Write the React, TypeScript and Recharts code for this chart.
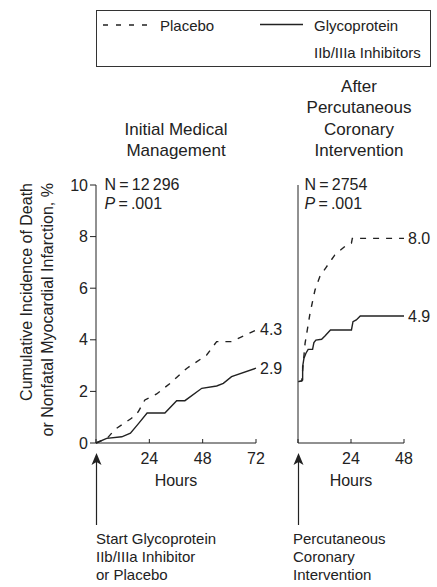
import React from "react";
import { LineChart, Line, XAxis, YAxis } from "recharts";

// Initial medical management (0-72 h)
const imGpHours = [0, 4.8, 11.6, 15.5, 19.2, 23, 31, 36.3, 40, 47.6, 54.3, 57.3, 61, 72];
const imGpValues = [0, 0.18, 0.24, 0.38, 0.76, 1.16, 1.16, 1.64, 1.64, 2.12, 2.21, 2.31, 2.57, 2.9];
const imPlaceboHours = [0, 5, 8.6, 16, 19, 22, 27.3, 33.3, 40.8, 49.8, 54.3, 61, 72];
const imPlaceboValues = [0, 0.18, 0.53, 0.96, 1.21, 1.67, 1.9, 2.31, 2.89, 3.41, 3.93, 3.93, 4.38];

// After PCI (0-48 h)
const pciGpHours = [0.2, 1.7, 2.1, 2.1, 2.7, 3.6, 4.6, 6.6, 7.2, 8.1, 10.7, 12.2, 14.7, 24.2, 24.9, 26.4, 28.2, 48];
const pciGpValues = [2.38, 2.41, 2.44, 2.96, 3.29, 3.48, 3.63, 3.63, 3.89, 3.99, 4.02, 4.15, 4.38, 4.38, 4.7, 4.77, 4.92, 4.92];
const pciPlaceboHours = [0.2, 1.7, 2.5, 3.2, 4.2, 5.4, 6.5, 7.7, 9.9, 12.9, 16.7, 21.9, 24.2, 24.6, 48];
const pciPlaceboValues = [2.38, 2.41, 3.2, 3.86, 4.38, 5.0, 5.45, 5.93, 6.45, 6.83, 7.29, 7.67, 7.75, 7.93, 7.93];

const imEndLabels = { placebo: "4.3", gp: "2.9" };
const pciEndLabels = { placebo: "8.0", gp: "4.9" };

const yTicks = [0, 2, 4, 6, 8, 10];
const imTicks = [0, 24, 48, 72];
const pciTicks = [0, 24, 48];

const FONT = "'Liberation Sans', Arial, Helvetica, sans-serif";
const INK = "#222";

const toPoints = (hours: number[], values: number[]) => hours.map((h, i) => ({ h, v: values[i] }));

const endLabel = (count: number, text: string) => (props: any) => {
  if (props.index !== count - 1) return <g key={props.key} />;
  return (
    <text key={props.key} x={props.cx + 4} y={props.cy} dominantBaseline="central" fontSize={16} fill={INK} fontFamily={FONT}>
      {text}
    </text>
  );
};

function Panel({
  left, right, maxHour, ticks, showYLabels, gp, placebo, labels,
}: {
  left: number; right: number; maxHour: number; ticks: number[]; showYLabels: boolean;
  gp: { h: number; v: number }[]; placebo: { h: number; v: number }[]; labels: { placebo: string; gp: string };
}) {
  const yWidth = 40;
  return (
    <div style={{ position: "absolute", left: 0, top: 0 }}>
      <LineChart width={437} height={500} margin={{ top: 185, right: 437 - right, bottom: 27, left: left - yWidth }}>
        <XAxis
          type="number"
          dataKey="h"
          domain={[0, maxHour]}
          ticks={ticks}
          interval={0}
          tickFormatter={(v: number) => (v === 0 ? "" : String(v))}
          tickSize={-4}
          tickMargin={14}
          height={30}
          stroke={INK}
          tick={{ fill: INK, fontSize: 16, fontFamily: FONT }}
        />
        <YAxis
          type="number"
          dataKey="v"
          domain={[0, 10]}
          ticks={yTicks}
          interval={0}
          width={yWidth}
          tickSize={6}
          stroke={INK}
          tick={showYLabels ? { fill: INK, fontSize: 16, fontFamily: FONT } : false}
        />
        <Line
          data={placebo}
          dataKey="v"
          type="linear"
          stroke={INK}
          strokeWidth={1.4}
          strokeDasharray="6 7"
          dot={endLabel(placebo.length, labels.placebo)}
          activeDot={false}
          isAnimationActive={false}
        />
        <Line
          data={gp}
          dataKey="v"
          type="linear"
          stroke={INK}
          strokeWidth={1.4}
          dot={endLabel(gp.length, labels.gp)}
          activeDot={false}
          isAnimationActive={false}
        />
      </LineChart>
    </div>
  );
}

const abs = (extra: React.CSSProperties): React.CSSProperties => ({ position: "absolute", ...extra });

export default function App() {
  return (
    <div style={{ position: "absolute", left: 0, top: 0, width: 437, height: 587, background: "#fff", fontFamily: FONT, color: INK }}>
      {/* legend */}
      <div style={abs({ left: 96, top: 10, width: 333, height: 55, border: "1px solid #333" })} />
      <svg width={437} height={70} style={abs({ left: 0, top: 0 })}>
        <line x1={103} x2={148} y1={25} y2={25} stroke={INK} strokeWidth={1.4} strokeDasharray="5 8" />
        <line x1={260} x2={303} y1={24.5} y2={24.5} stroke={INK} strokeWidth={1.4} />
      </svg>
      <div style={abs({ left: 160, top: 12, fontSize: 15, lineHeight: "27px" })}>Placebo</div>
      <div style={abs({ left: 314, top: 12, fontSize: 15, lineHeight: "27px" })}>
        Glycoprotein
        <br />
        IIb/IIIa Inhibitors
      </div>

      {/* panel titles */}
      <div style={abs({ left: 96, width: 160, top: 118.5, fontSize: 17, lineHeight: "21.5px", textAlign: "center" })}>
        Initial Medical
        <br />
        Management
      </div>
      <div style={abs({ left: 289, width: 140, top: 75.5, fontSize: 17, lineHeight: "21.5px", textAlign: "center" })}>
        After
        <br />
        Percutaneous
        <br />
        Coronary
        <br />
        Intervention
      </div>

      <Panel left={96} right={256} maxHour={72} ticks={imTicks} showYLabels={true}
        gp={toPoints(imGpHours, imGpValues)} placebo={toPoints(imPlaceboHours, imPlaceboValues)} labels={imEndLabels} />
      <Panel left={298} right={404} maxHour={48} ticks={pciTicks} showYLabels={false}
        gp={toPoints(pciGpHours, pciGpValues)} placebo={toPoints(pciPlaceboHours, pciPlaceboValues)} labels={pciEndLabels} />

      {/* N / P */}
      <div style={abs({ left: 104.5, top: 174.7, fontSize: 16, lineHeight: "19px" })}>
        N{"\u2009"}={"\u2009"}12{"\u2009"}296
        <br />
        <i>P</i>{"\u2009"}={"\u2009"}.001
      </div>
      <div style={abs({ left: 304.5, top: 174.7, fontSize: 16, lineHeight: "19px" })}>
        N{"\u2009"}={"\u2009"}2754
        <br />
        <i>P</i>{"\u2009"}={"\u2009"}.001
      </div>

      {/* hours */}
      <div style={abs({ left: 96, width: 160, top: 471, fontSize: 16, lineHeight: "20px", textAlign: "center" })}>Hours</div>
      <div style={abs({ left: 298, width: 106, top: 471, fontSize: 16, lineHeight: "20px", textAlign: "center" })}>Hours</div>

      {/* y label + arrows */}
      <svg width={437} height={587} style={abs({ left: 0, top: 0, pointerEvents: "none" })}>
        <text transform="translate(31.5,183) rotate(-90)" textAnchor="end" fontSize={16} fill={INK} fontFamily={FONT}>
          Cumulative Incidence of Death
        </text>
        <text transform="translate(53,183) rotate(-90)" textAnchor="end" fontSize={16} fill={INK} fontFamily={FONT}>
          or Nonfatal Myocardial Infarction, %
        </text>
        {[96.5, 298.5].map((x) => (
          <g key={x}>
            <line x1={x} x2={x} y1={462} y2={525} stroke={INK} strokeWidth={1.2} />
            <polygon points={`${x},453 ${x + 5},465 ${x},462 ${x - 5},465`} fill={INK} />
          </g>
        ))}
      </svg>

      {/* annotations */}
      <div style={abs({ left: 96, top: 529.7, fontSize: 15, lineHeight: "18.3px" })}>
        Start Glycoprotein
        <br />
        IIb/IIIa Inhibitor
        <br />
        or Placebo
      </div>
      <div style={abs({ left: 293, top: 529.7, fontSize: 15, lineHeight: "18.3px" })}>
        Percutaneous
        <br />
        Coronary
        <br />
        Intervention
      </div>
    </div>
  );
}
